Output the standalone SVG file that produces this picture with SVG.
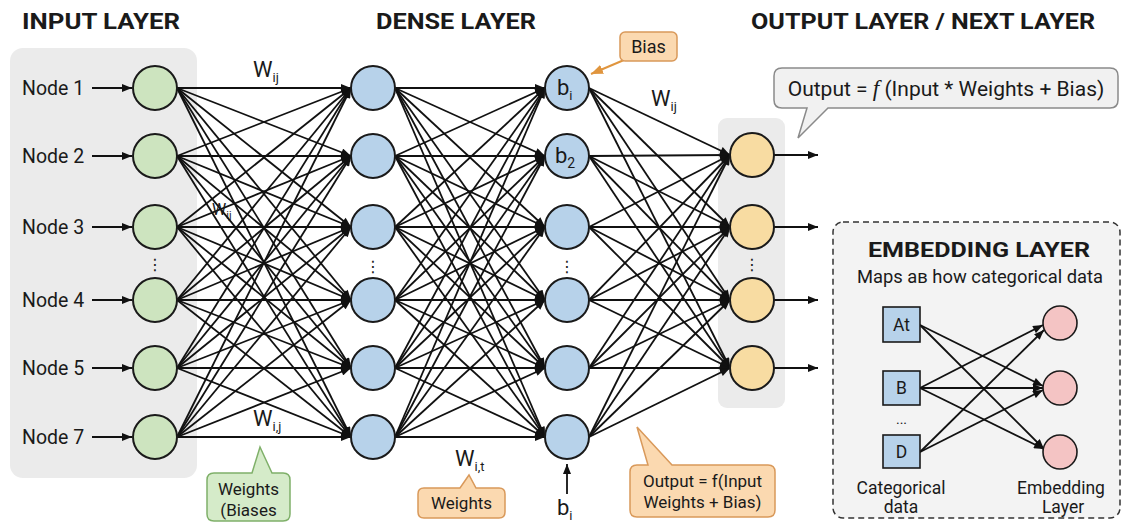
<svg xmlns="http://www.w3.org/2000/svg" width="1123" height="522" viewBox="0 0 1123 522">
<defs>
<marker id="ah" viewBox="0 0 10 8" refX="10" refY="4" markerWidth="11" markerHeight="8" markerUnits="userSpaceOnUse" orient="auto"><path d="M0,0 L10,4 L0,8 Z" fill="#111"/></marker>
<marker id="aho" viewBox="0 0 10 8" refX="10" refY="4" markerWidth="12" markerHeight="10" markerUnits="userSpaceOnUse" orient="auto"><path d="M0,0 L10,4 L0,8 Z" fill="#e0953e"/></marker>
</defs>
<style>
text{font-family:Roboto,"Liberation Sans",sans-serif;fill:#1a1a1a}
.title{font-size:22px;font-weight:bold}
.lbl{font-size:19.5px}
.w{font-size:22px}
.sub{font-size:13px}
.c line{stroke:#111;stroke-width:1.8;marker-end:url(#ah)}
.in{fill:#cde4bf;stroke:#1a1a1a;stroke-width:2}
.de{fill:#b7d2ea;stroke:#1a1a1a;stroke-width:2}
.ou{fill:#f8dca2;stroke:#1a1a1a;stroke-width:2}
.pk{fill:#f4c4c4;stroke:#1a1a1a;stroke-width:1.6}
.sq{fill:#b7d2ea;stroke:#1a1a1a;stroke-width:1.6}
.dots{font-family:"DejaVu Sans",sans-serif;font-size:16px}
.ob{fill:#fbd9b0;stroke:#d9995a;stroke-width:1.5}
.gb{fill:#d5ebc9;stroke:#7fb069;stroke-width:1.5}
.bx{font-size:17px}
.em{font-size:17.5px}
</style>
<rect width="1123" height="522" fill="#ffffff"/>

<g id="titles">
<text class="title" x="22" y="29" textLength="158" lengthAdjust="spacingAndGlyphs">INPUT LAYER</text>
<text class="title" x="376" y="29" textLength="160" lengthAdjust="spacingAndGlyphs">DENSE LAYER</text>
<text class="title" x="751" y="29" textLength="344" lengthAdjust="spacingAndGlyphs">OUTPUT LAYER / NEXT LAYER</text>
</g>

<g id="input-panel"><rect x="10" y="48" width="187" height="430" rx="13" fill="#ebebeb"/></g>
<g id="output-panel"><rect x="718" y="118" width="67" height="290" rx="9" fill="#ebebeb"/></g>

<g id="connectors" class="c">
<line x1="92" y1="88" x2="132" y2="88"/>
<line x1="92" y1="156" x2="132" y2="156"/>
<line x1="92" y1="227" x2="132" y2="227"/>
<line x1="92" y1="300" x2="132" y2="300"/>
<line x1="92" y1="368" x2="132" y2="368"/>
<line x1="92" y1="437" x2="132" y2="437"/>

<line x1="177" y1="88" x2="351" y2="88"/><line x1="177" y1="88" x2="351" y2="156"/><line x1="177" y1="88" x2="351" y2="227"/><line x1="177" y1="88" x2="351" y2="300"/><line x1="177" y1="88" x2="351" y2="368"/><line x1="177" y1="88" x2="351" y2="437"/>
<line x1="177" y1="156" x2="351" y2="88"/><line x1="177" y1="156" x2="351" y2="156"/><line x1="177" y1="156" x2="351" y2="227"/><line x1="177" y1="156" x2="351" y2="300"/><line x1="177" y1="156" x2="351" y2="368"/><line x1="177" y1="156" x2="351" y2="437"/>
<line x1="177" y1="227" x2="351" y2="88"/><line x1="177" y1="227" x2="351" y2="156"/><line x1="177" y1="227" x2="351" y2="227"/><line x1="177" y1="227" x2="351" y2="300"/><line x1="177" y1="227" x2="351" y2="368"/><line x1="177" y1="227" x2="351" y2="437"/>
<line x1="177" y1="300" x2="351" y2="88"/><line x1="177" y1="300" x2="351" y2="156"/><line x1="177" y1="300" x2="351" y2="227"/><line x1="177" y1="300" x2="351" y2="300"/><line x1="177" y1="300" x2="351" y2="368"/><line x1="177" y1="300" x2="351" y2="437"/>
<line x1="177" y1="368" x2="351" y2="88"/><line x1="177" y1="368" x2="351" y2="156"/><line x1="177" y1="368" x2="351" y2="227"/><line x1="177" y1="368" x2="351" y2="300"/><line x1="177" y1="368" x2="351" y2="368"/><line x1="177" y1="368" x2="351" y2="437"/>
<line x1="177" y1="437" x2="351" y2="88"/><line x1="177" y1="437" x2="351" y2="156"/><line x1="177" y1="437" x2="351" y2="227"/><line x1="177" y1="437" x2="351" y2="300"/><line x1="177" y1="437" x2="351" y2="368"/><line x1="177" y1="437" x2="351" y2="437"/>

<line x1="395" y1="88" x2="545" y2="88"/><line x1="395" y1="88" x2="545" y2="156"/><line x1="395" y1="88" x2="545" y2="227"/><line x1="395" y1="88" x2="545" y2="300"/><line x1="395" y1="88" x2="545" y2="368"/><line x1="395" y1="88" x2="545" y2="437"/>
<line x1="395" y1="156" x2="545" y2="88"/><line x1="395" y1="156" x2="545" y2="156"/><line x1="395" y1="156" x2="545" y2="227"/><line x1="395" y1="156" x2="545" y2="300"/><line x1="395" y1="156" x2="545" y2="368"/><line x1="395" y1="156" x2="545" y2="437"/>
<line x1="395" y1="227" x2="545" y2="88"/><line x1="395" y1="227" x2="545" y2="156"/><line x1="395" y1="227" x2="545" y2="227"/><line x1="395" y1="227" x2="545" y2="300"/><line x1="395" y1="227" x2="545" y2="368"/><line x1="395" y1="227" x2="545" y2="437"/>
<line x1="395" y1="300" x2="545" y2="88"/><line x1="395" y1="300" x2="545" y2="156"/><line x1="395" y1="300" x2="545" y2="227"/><line x1="395" y1="300" x2="545" y2="300"/><line x1="395" y1="300" x2="545" y2="368"/><line x1="395" y1="300" x2="545" y2="437"/>
<line x1="395" y1="368" x2="545" y2="88"/><line x1="395" y1="368" x2="545" y2="156"/><line x1="395" y1="368" x2="545" y2="227"/><line x1="395" y1="368" x2="545" y2="300"/><line x1="395" y1="368" x2="545" y2="368"/><line x1="395" y1="368" x2="545" y2="437"/>
<line x1="395" y1="437" x2="545" y2="88"/><line x1="395" y1="437" x2="545" y2="156"/><line x1="395" y1="437" x2="545" y2="227"/><line x1="395" y1="437" x2="545" y2="300"/><line x1="395" y1="437" x2="545" y2="368"/><line x1="395" y1="437" x2="545" y2="437"/>

<line x1="589" y1="88" x2="730" y2="155"/><line x1="589" y1="88" x2="730" y2="227"/><line x1="589" y1="88" x2="730" y2="300"/><line x1="589" y1="88" x2="730" y2="368"/>
<line x1="589" y1="156" x2="730" y2="155"/><line x1="589" y1="156" x2="730" y2="227"/><line x1="589" y1="156" x2="730" y2="300"/><line x1="589" y1="156" x2="730" y2="368"/>
<line x1="589" y1="227" x2="730" y2="155"/><line x1="589" y1="227" x2="730" y2="227"/><line x1="589" y1="227" x2="730" y2="300"/><line x1="589" y1="227" x2="730" y2="368"/>
<line x1="589" y1="300" x2="730" y2="155"/><line x1="589" y1="300" x2="730" y2="227"/><line x1="589" y1="300" x2="730" y2="300"/><line x1="589" y1="300" x2="730" y2="368"/>
<line x1="589" y1="368" x2="730" y2="155"/><line x1="589" y1="368" x2="730" y2="227"/><line x1="589" y1="368" x2="730" y2="300"/><line x1="589" y1="368" x2="730" y2="368"/>
<line x1="589" y1="437" x2="730" y2="155"/><line x1="589" y1="437" x2="730" y2="227"/><line x1="589" y1="437" x2="730" y2="300"/><line x1="589" y1="437" x2="730" y2="368"/>

<line x1="774" y1="155" x2="818" y2="155"/>
<line x1="774" y1="227" x2="818" y2="227"/>
<line x1="774" y1="300" x2="818" y2="300"/>
<line x1="774" y1="368" x2="818" y2="368"/>

<line x1="567" y1="494" x2="567" y2="464"/>
<line x1="624" y1="60" x2="591" y2="74" style="stroke:#e0953e;stroke-width:2;marker-end:url(#aho)"/>
</g>

<g id="input-nodes">
<text class="lbl" x="22" y="95">Node 1</text>
<text class="lbl" x="22" y="163">Node 2</text>
<text class="lbl" x="22" y="234">Node 3</text>
<text class="lbl" x="22" y="307">Node 4</text>
<text class="lbl" x="22" y="375">Node 5</text>
<text class="lbl" x="22" y="444">Node 7</text>
<circle class="in" cx="155" cy="88" r="22"/>
<circle class="in" cx="155" cy="156" r="22"/>
<circle class="in" cx="155" cy="227" r="22"/>
<circle class="in" cx="155" cy="300" r="22"/>
<circle class="in" cx="155" cy="368" r="22"/>
<circle class="in" cx="155" cy="437" r="22"/>
<text class="dots" x="155" y="270" text-anchor="middle">⋮</text>
</g>

<g id="dense1-nodes">
<circle class="de" cx="373" cy="88" r="22"/>
<circle class="de" cx="373" cy="156" r="22"/>
<circle class="de" cx="373" cy="227" r="22"/>
<circle class="de" cx="373" cy="300" r="22"/>
<circle class="de" cx="373" cy="368" r="22"/>
<circle class="de" cx="373" cy="437" r="22"/>
<text class="dots" x="373" y="272" text-anchor="middle">⋮</text>
</g>

<g id="dense2-nodes">
<circle class="de" cx="567" cy="88" r="22"/>
<circle class="de" cx="567" cy="156" r="22"/>
<circle class="de" cx="567" cy="227" r="22"/>
<circle class="de" cx="567" cy="300" r="22"/>
<circle class="de" cx="567" cy="368" r="22"/>
<circle class="de" cx="567" cy="437" r="22"/>
<text x="557" y="95" style="font-size:22px">b<tspan class="sub" dy="5">i</tspan></text>
<text x="555" y="163" style="font-size:22px">b<tspan style="font-size:14px" dy="5">2</tspan></text>
<text class="dots" x="567" y="272" text-anchor="middle">⋮</text>
</g>

<g id="output-nodes">
<circle class="ou" cx="752" cy="155" r="22"/>
<circle class="ou" cx="752" cy="227" r="22"/>
<circle class="ou" cx="752" cy="300" r="22"/>
<circle class="ou" cx="752" cy="368" r="22"/>
<text class="dots" x="752" y="270" text-anchor="middle">⋮</text>
</g>

<g id="weight-labels">
<text class="w" x="253" y="77">W<tspan class="sub" dy="5">ij</tspan></text>
<text x="212" y="215" style="font-size:16px">W<tspan style="font-size:11px" dy="4">ij</tspan></text>
<text class="w" x="253" y="426">W<tspan class="sub" dy="5">i,j</tspan></text>
<text class="w" x="651" y="106">W<tspan class="sub" dy="5">ij</tspan></text>
<text class="w" x="455" y="466">W<tspan class="sub" dy="5">i,t</tspan></text>
<text x="557" y="515" style="font-size:22px">b<tspan class="sub" dy="5">i</tspan></text>
</g>

<g id="bias-box">
<rect class="ob" x="620" y="32" width="57" height="29" rx="5"/>
<text x="648.5" y="53" text-anchor="middle" style="font-size:18px">Bias</text>
</g>

<g id="formula-bubble">
<path d="M782,68 H1110 Q1118,68 1118,76 V100 Q1118,108 1110,108 H828 L798,138 L807,108 H782 Q774,108 774,100 V76 Q774,68 782,68 Z" fill="#f1f1f1" stroke="#8a8a8a" stroke-width="1.5"/>
<text x="946" y="96" text-anchor="middle" style="font-size:21px">Output = <tspan style="font-family:'Liberation Serif',serif;font-style:italic;font-size:23px">f</tspan> (Input * Weights + Bias)</text>
</g>

<g id="weights-biases-box">
<path class="gb" d="M214,473 H252 L260,447 L272,473 H283 Q290,473 290,480 V514 Q290,521 283,521 H214 Q207,521 207,514 V480 Q207,473 214,473 Z"/>
<text class="bx" x="248.5" y="495" text-anchor="middle">Weights</text>
<text class="bx" x="248.5" y="516" text-anchor="middle">(Biases</text>
</g>

<g id="weights-box">
<path class="ob" d="M424,488 H460 L469,475 L476,488 H499 Q505,488 505,494 V512 Q505,518 499,518 H424 Q418,518 418,512 V494 Q418,488 424,488 Z"/>
<text class="bx" x="461.5" y="509" text-anchor="middle">Weights</text>
</g>

<g id="output-box">
<path class="ob" d="M637,465 H648 L637,427 L672,465 H768 Q775,465 775,472 V510 Q775,517 768,517 H637 Q630,517 630,510 V472 Q630,465 637,465 Z"/>
<text class="bx" x="702.5" y="487" text-anchor="middle">Output = f(Input</text>
<text class="bx" x="702.5" y="508" text-anchor="middle">Weights + Bias)</text>
</g>

<g id="embedding-layer">
<rect x="833" y="222" width="287" height="296" rx="10" fill="#f3f3f3" stroke="#333" stroke-width="1.5" stroke-dasharray="6 4"/>
<text x="979" y="257" text-anchor="middle" style="font-size:21px;font-weight:bold" textLength="222" lengthAdjust="spacingAndGlyphs">EMBEDDING LAYER</text>
<text x="980" y="283" text-anchor="middle" style="font-size:17.5px" textLength="246" lengthAdjust="spacingAndGlyphs">Maps aв how categorical data</text>
<g class="c">
<line x1="920" y1="325" x2="1043" y2="386"/>
<line x1="920" y1="325" x2="1044" y2="449"/>
<line x1="920" y1="388" x2="1043" y2="325"/>
<line x1="920" y1="388" x2="1043" y2="388"/>
<line x1="920" y1="388" x2="1044" y2="449"/>
<line x1="920" y1="452" x2="1044" y2="330"/>
<line x1="920" y1="452" x2="1043" y2="390"/>
</g>
<g id="cat-at"><rect class="sq" x="883" y="307" width="37" height="35"/><text class="em" x="901.5" y="331" text-anchor="middle">At</text></g>
<g id="cat-b"><rect class="sq" x="883" y="371" width="37" height="34"/><text class="em" x="901.5" y="394" text-anchor="middle">B</text></g>
<text x="901.5" y="424" text-anchor="middle" style="font-size:14px">...</text>
<g id="cat-d"><rect class="sq" x="883" y="435" width="37" height="33"/><text class="em" x="901.5" y="458" text-anchor="middle">D</text></g>
<circle class="pk" cx="1060" cy="323" r="17"/>
<circle class="pk" cx="1060" cy="388" r="17"/>
<circle class="pk" cx="1060" cy="452" r="17"/>
<text class="em" x="901" y="494" text-anchor="middle">Categorical</text>
<text class="em" x="901" y="513" text-anchor="middle">data</text>
<text class="em" x="1061" y="494" text-anchor="middle">Embedding</text>
<text class="em" x="1063" y="513" text-anchor="middle">Layer</text>
</g>
</svg>
